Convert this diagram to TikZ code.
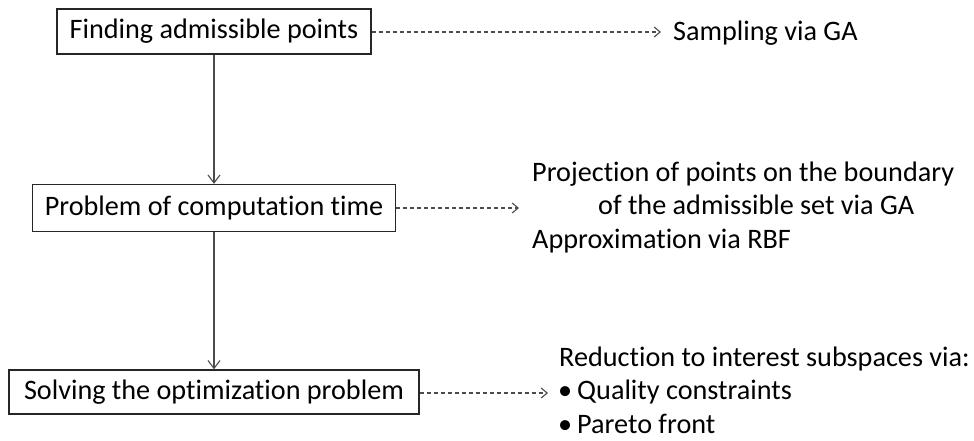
\documentclass[tikz,border=0pt]{standalone}
\usepackage{fontspec}
\setmainfont{Carlito}[Ligatures=NoCommon]
\usetikzlibrary{arrows.meta}
\begin{document}
\begin{tikzpicture}[x=1pt,y=-1pt,
  font=\fontsize{28.2}{33}\selectfont,
  stepbox/.style={draw=black!85,line width=1.3pt,inner sep=0pt,anchor=center},
  lbl/.style={anchor=base west,inner sep=0pt},
  flow/.style={draw=black!70,line width=1.1pt,-{Straight Barb[length=8pt,width=12pt,line width=1.1pt]}},
  link/.style={draw=black!70,line width=1.1pt,dash pattern=on 4pt off 3pt,-{Straight Barb[length=6pt,width=10pt,line width=1.1pt]}}]
\useasboundingbox (0,0) rectangle (974,440);
\fill[white] (0,0) rectangle (974,440);
\node[stepbox,minimum width=314pt,minimum height=45pt] (b1) at (214,31.5) {Finding admissible points};
\node[stepbox,minimum width=363pt,minimum height=47pt] (b2) at (214,208) {Problem of computation time};
\node[stepbox,minimum width=410pt,minimum height=44pt] (b3) at (214,392) {Solving the optimization problem};
\coordinate (e1) at (661,32);
\coordinate (e2) at (519,208);
\coordinate (e3) at (548,393);
\node[lbl] (s1) at (673,40) {Sampling via GA};
\node[lbl] (p1) at (532,181) {Projection of points on the boundary};
\node[lbl] (p2) at (598,214) {of the admissible set via GA};
\node[lbl] (p3) at (532,248) {Approximation via RBF};
\node[lbl] (r1) at (559,366) {Reduction to interest subspaces via:};
\node[lbl] (r2) at (558,399) {\textbullet\hspace{5pt}Quality constraints};
\node[lbl] (r3) at (558,433) {\textbullet\hspace{5pt}Pareto front};
\draw[flow] (b1.south) -- (b2.north);
\draw[flow] (b2.south) -- (b3.north);
\draw[link] (b1.east |- e1) -- (e1);
\draw[link] (b2.east |- e2) -- (e2);
\draw[link] (b3.east |- e3) -- (e3);
\end{tikzpicture}
\end{document}
